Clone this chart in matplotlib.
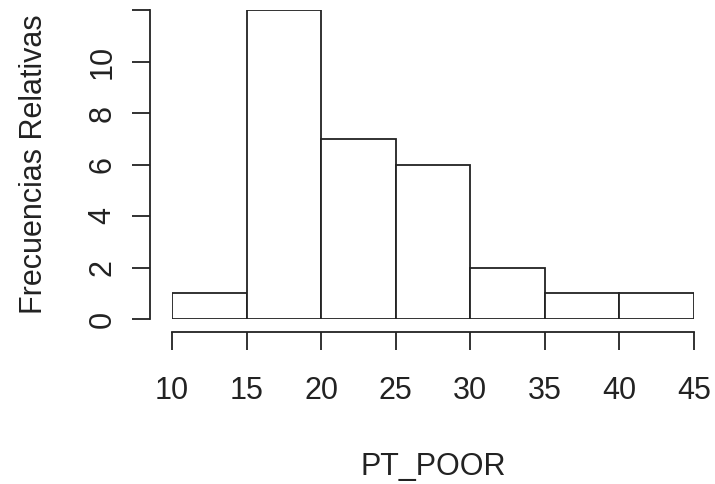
import matplotlib.pyplot as plt

# histogram of PT_POOR (R-style hist)
bin_edges = [10, 15, 20, 25, 30, 35, 40, 45]
counts = [1, 12, 7, 6, 2, 1, 1]
x_ticks = [10, 15, 20, 25, 30, 35, 40, 45]
y_ticks = [0, 2, 4, 6, 8, 10, 12]
y_labels = ['0', '2', '4', '6', '8', '10', '']

plt.rcParams['font.family'] = ['Liberation Sans', 'DejaVu Sans']

fig = plt.figure(figsize=(7.15, 4.84), dpi=100)
ax = fig.add_axes([172 / 715, (484 - 319) / 484, 522 / 715, 309 / 484])

widths = [bin_edges[i + 1] - bin_edges[i] for i in range(len(counts))]
ax.bar(bin_edges[:-1], counts, width=widths, align='edge',
       facecolor='white', edgecolor='#222222', linewidth=1.3)

ax.set_xlim(10, 45)
ax.set_ylim(0, 12)
ax.margins(0)

for s in ['top', 'right']:
    ax.spines[s].set_visible(False)
ax.spines['left'].set_position(('outward', 15.8))
ax.spines['bottom'].set_position(('outward', 9.4))
ax.spines['left'].set_bounds(0, 12)
ax.spines['bottom'].set_bounds(10, 45)
for s in ['left', 'bottom']:
    ax.spines[s].set_linewidth(1.3)
    ax.spines[s].set_color('#222222')

ax.set_xticks(x_ticks)
ax.set_xticklabels([str(v) for v in x_ticks])
ax.set_yticks(y_ticks)
ax.set_yticklabels(y_labels, rotation=90, va='center')
ax.tick_params(axis='both', length=13, width=1.3, color='#222222',
               labelsize=22, labelcolor='#222222')
ax.tick_params(axis='x', pad=18.5)
ax.tick_params(axis='y', pad=10.5)

ax.set_xlabel('PT_POOR', fontsize=22, color='#222222', labelpad=33)
ax.set_ylabel('Frecuencias Relativas', fontsize=22, color='#222222', labelpad=28)

fig.savefig('out.png', dpi=100)
